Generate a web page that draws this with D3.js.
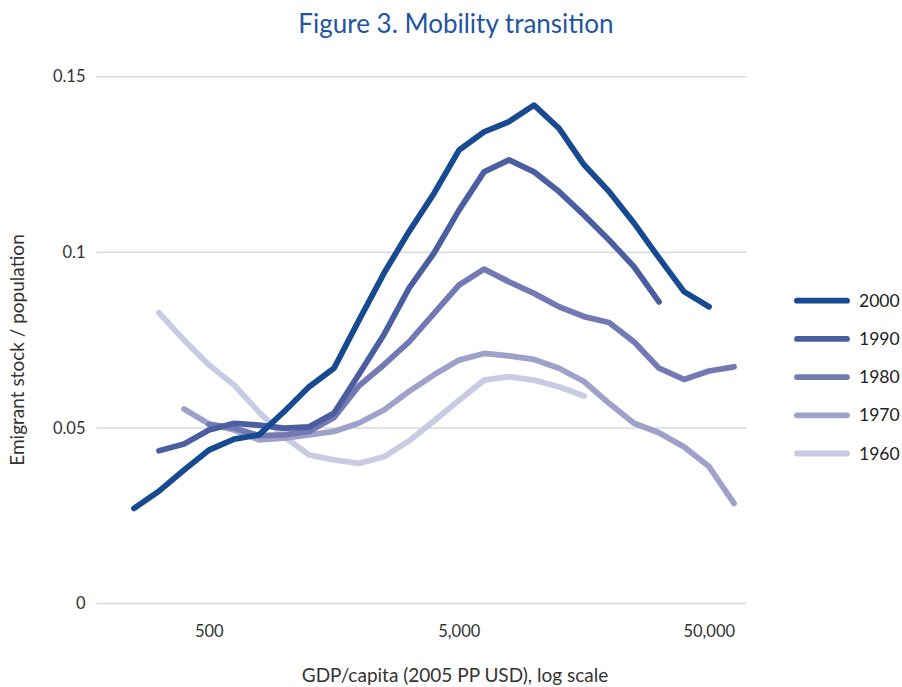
<!DOCTYPE html>
<html>
<head>
<meta charset="utf-8">
<script src="https://cdn.jsdelivr.net/npm/d3@7"></script>
<style>
  html, body { margin: 0; padding: 0; background: #fff; }
  svg { display: block; }
  text { font-family: Lato, "Open Sans", sans-serif; }
</style>
</head>
<body>
<svg id="chart" width="902" height="687"></svg>
<script>
// GDP per capita bins (2005 PPP USD), log spaced
const gdpBins = [251, 316, 398, 501, 631, 794, 1000, 1259, 1585, 1995, 2512, 3162, 3981,
                 5012, 6310, 7943, 10000, 12589, 15849, 19953, 25119, 31623, 39811, 50119, 63096];

const s2000 = [0.0271, 0.0320, 0.0380, 0.0437, 0.0468, 0.0480, 0.0546, 0.0617, 0.0670, 0.0807, 0.0941, 0.1059, 0.1168,
               0.1291, 0.1343, 0.1372, 0.1419, 0.1353, 0.1249, 0.1173, 0.1083, 0.0984, 0.0888, 0.0845, null];
const s1990 = [null, 0.0435, 0.0454, 0.0494, 0.0513, 0.0508, 0.0499, 0.0503, 0.0542, 0.0653, 0.0766, 0.0898, 0.0998,
               0.1120, 0.1229, 0.1263, 0.1229, 0.1173, 0.1106, 0.1035, 0.0959, 0.0859, null, null, null];
const s1980 = [null, null, null, 0.0510, 0.0500, 0.0478, 0.0480, 0.0490, 0.0530, 0.0620, 0.0680, 0.0745, 0.0826,
               0.0907, 0.0952, 0.0916, 0.0883, 0.0845, 0.0817, 0.0800, 0.0745, 0.0670, 0.0638, 0.0662, 0.0674];
const s1970 = [null, null, 0.0554, 0.0511, 0.0494, 0.0466, 0.0471, 0.0480, 0.0490, 0.0514, 0.0551, 0.0604, 0.0651,
               0.0693, 0.0712, 0.0705, 0.0695, 0.0670, 0.0632, 0.0570, 0.0513, 0.0486, 0.0446, 0.0390, 0.0285];
const s1960 = [null, 0.0828, 0.0750, 0.0679, 0.0622, 0.0545, 0.0475, 0.0423, 0.0409, 0.0399, 0.0418, 0.0463, 0.0520,
               0.0579, 0.0636, 0.0646, 0.0636, 0.0617, 0.0591, null, null, null, null, null, null];

const seriesNames = ["2000", "1990", "1980", "1970", "1960"];
const seriesValues = [s2000, s1990, s1980, s1970, s1960];
const seriesColors = ["#174a91", "#4b5ea0", "#7279b3", "#9ea1c9", "#c8cbe3"];

const xTicks = [500, 5000, 50000];
const xTickLabels = ["500", "5,000", "50,000"];
const yTicks = [0, 0.05, 0.1, 0.15];
const yTickLabels = ["0", "0.05", "0.1", "0.15"];

const titleText = "Figure 3. Mobility transition";
const xTitle = "GDP/capita (2005 PP USD), log scale";
const yTitle = "Emigrant stock / population";

// ---- drawing ----
const svg = d3.select("#chart");
const plotL = 96.5, plotR = 746.5, plotT = 76.7, plotB = 603.5;

const x = d3.scaleLog()
  .domain([gdpBins[0] / Math.pow(10, 0.15), gdpBins[gdpBins.length - 1] * Math.pow(10, 0.05)])
  .range([plotL, plotR]);
const y = d3.scaleLinear().domain([0, 0.15]).range([plotB, plotT]);

// gridlines
svg.append("g").selectAll("line").data(yTicks).join("line")
  .attr("x1", plotL).attr("x2", plotR)
  .attr("y1", d => y(d)).attr("y2", d => y(d))
  .attr("stroke", "#dadada").attr("stroke-width", 1.5);

// y axis labels
const yAxis = d3.axisLeft(y).tickValues(yTicks)
  .tickFormat((d, i) => yTickLabels[i]).tickSize(0).tickPadding(11);
const gy = svg.append("g").attr("transform", `translate(${plotL},0)`).call(yAxis);
gy.select(".domain").remove();
gy.selectAll("text").attr("font-size", 16.5).attr("fill", "#333")
  .style("font-family", "Lato, sans-serif");

// x axis labels
const xAxis = d3.axisBottom(x).tickValues(xTicks)
  .tickFormat((d, i) => xTickLabels[i]).tickSize(0).tickPadding(22);
const gx = svg.append("g").attr("transform", `translate(0,${plotB})`).call(xAxis);
gx.select(".domain").remove();
gx.selectAll("text").attr("font-size", 16.5).attr("fill", "#333")
  .style("font-family", "Lato, sans-serif");

// lines
const line = d3.line()
  .defined(d => d.v !== null)
  .x(d => x(d.g)).y(d => y(d.v));

const order = [4, 3, 2, 1, 0];
svg.append("g").selectAll("path").data(order).join("path")
  .attr("d", k => line(gdpBins.map((g, i) => ({ g: g, v: seriesValues[k][i] }))))
  .attr("fill", "none")
  .attr("stroke", k => seriesColors[k])
  .attr("stroke-width", 5.8)
  .attr("stroke-linejoin", "round")
  .attr("stroke-linecap", "round");

// legend
const lg = svg.append("g");
seriesNames.forEach((name, k) => {
  const ly = 300.7 + k * 38.2;
  lg.append("line").attr("x1", 797).attr("x2", 847).attr("y1", ly).attr("y2", ly)
    .attr("stroke", seriesColors[k]).attr("stroke-width", 5.8).attr("stroke-linecap", "round");
  lg.append("text").attr("x", 859).attr("y", ly + 6).attr("font-size", 17.5)
    .attr("fill", "#222").text(name);
});

// titles
svg.append("text").attr("x", 456).attr("y", 33).attr("text-anchor", "middle")
  .attr("font-size", 26).attr("fill", "#1f55a0").text(titleText);
svg.append("text").attr("x", 455).attr("y", 682).attr("text-anchor", "middle")
  .attr("font-size", 19).attr("fill", "#333").text(xTitle);
svg.append("text").attr("transform", "translate(24,350) rotate(-90)")
  .attr("text-anchor", "middle").attr("font-size", 19).attr("fill", "#333").text(yTitle);
</script>
</body>
</html>
